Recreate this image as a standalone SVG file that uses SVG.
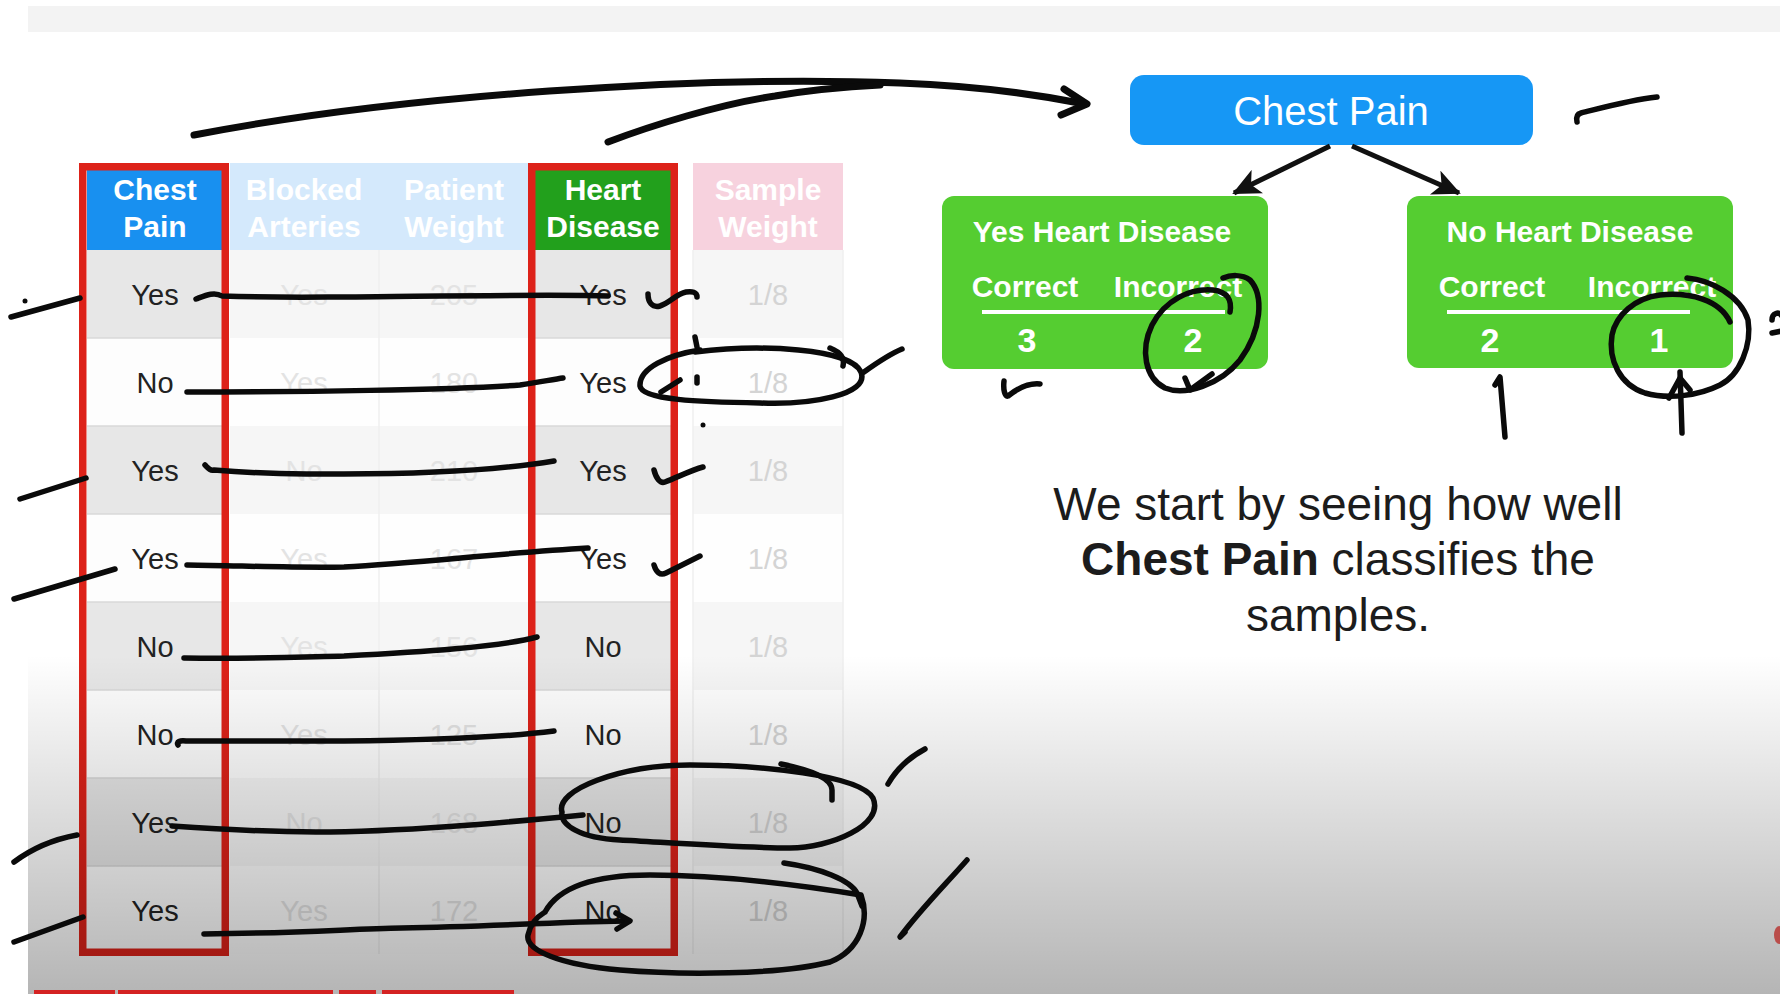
<svg xmlns="http://www.w3.org/2000/svg" width="1780" height="994" viewBox="0 0 1780 994">
  <defs>
    <linearGradient id="fade" x1="0" y1="655" x2="0" y2="994" gradientUnits="userSpaceOnUse">
      <stop offset="0" stop-color="#000" stop-opacity="0"/>
      <stop offset="1" stop-color="#000" stop-opacity="0.29"/>
    </linearGradient>
    <marker id="head" markerUnits="userSpaceOnUse" markerWidth="28" markerHeight="26" refX="26" refY="13" orient="auto" viewBox="0 0 28 26">
      <path d="M0,0 L28,13 L0,26 L7,13 z" fill="#111"/>
    </marker>
    <style>
      text { font-family: "Liberation Sans", Arial, Helvetica, sans-serif; }
      .hdr { font-size: 30px; font-weight: bold; fill: #fff; text-anchor: middle; }
      .val { font-size: 29px; fill: #222; text-anchor: middle; }
      .faint { font-size: 29px; fill: #e3e3e3; text-anchor: middle; }
      .wt { font-size: 29px; fill: #d4d4d4; text-anchor: middle; }
      .frame { fill: none; stroke: #dd2219; stroke-width: 7.5; }
      .odd { fill: #e7e7e7; }
      .even { fill: #fdfdfd; }
      .modd { fill: #f6f6f6; }
      .meven { fill: #fefefe; }
      .sep { stroke: #d9d9d9; stroke-width: 1.5; }
      .leaf { fill: #55cd31; }
      .leaf-title { font-size: 30px; font-weight: bold; fill: #fff; text-anchor: middle; }
      .leaf-num { font-size: 34px; font-weight: bold; fill: #fff; text-anchor: middle; }
      .rule { stroke: #fff; stroke-width: 4; }
      .edge { stroke: #111; stroke-width: 5; fill: none; marker-end: url(#head); }
      .body { font-size: 46px; fill: #1c1c1c; text-anchor: middle; }
      .ink { fill: none; stroke: #0a0a0a; stroke-width: 5.5; stroke-linecap: round; stroke-linejoin: round; }
      .ink-thick { fill: none; stroke: #0a0a0a; stroke-width: 7; stroke-linecap: round; stroke-linejoin: round; }
    </style>
  </defs>

  <!-- slide background -->
  <rect x="0" y="0" width="1780" height="994" fill="#ffffff"/>
  <rect x="28" y="6" width="1752" height="26" fill="#f3f3f3"/>

  <!-- data table -->
  <g id="table">
    <!-- header cells -->
    <rect x="87" y="170" width="136" height="80" fill="#1890f0"/>
    <rect x="230" y="163" width="298" height="87" fill="#d4e9fc"/>
    <rect x="535" y="170" width="137" height="80" fill="#22a01c"/>
    <rect x="693" y="163" width="150" height="87" fill="#f7d2de"/>

    <!-- body rows -->
    <g id="rows">
      <rect class="odd" x="87" y="250" width="136" height="88"/>
      <rect class="even" x="87" y="338" width="136" height="88"/>
      <rect class="odd" x="87" y="426" width="136" height="88"/>
      <rect class="even" x="87" y="514" width="136" height="88"/>
      <rect class="odd" x="87" y="602" width="136" height="88"/>
      <rect class="even" x="87" y="690" width="136" height="88"/>
      <rect class="odd" x="87" y="778" width="136" height="88"/>
      <rect class="even" x="87" y="866" width="136" height="88"/>

      <rect class="odd" x="535" y="250" width="137" height="88"/>
      <rect class="even" x="535" y="338" width="137" height="88"/>
      <rect class="odd" x="535" y="426" width="137" height="88"/>
      <rect class="even" x="535" y="514" width="137" height="88"/>
      <rect class="odd" x="535" y="602" width="137" height="88"/>
      <rect class="even" x="535" y="690" width="137" height="88"/>
      <rect class="odd" x="535" y="778" width="137" height="88"/>
      <rect class="even" x="535" y="866" width="137" height="88"/>

      <rect class="modd" x="230" y="250" width="298" height="88"/>
      <rect class="meven" x="230" y="338" width="298" height="88"/>
      <rect class="modd" x="230" y="426" width="298" height="88"/>
      <rect class="meven" x="230" y="514" width="298" height="88"/>
      <rect class="modd" x="230" y="602" width="298" height="88"/>
      <rect class="meven" x="230" y="690" width="298" height="88"/>
      <rect class="modd" x="230" y="778" width="298" height="88"/>
      <rect class="meven" x="230" y="866" width="298" height="88"/>

      <rect class="modd" x="693" y="250" width="150" height="88"/>
      <rect class="meven" x="693" y="338" width="150" height="88"/>
      <rect class="modd" x="693" y="426" width="150" height="88"/>
      <rect class="meven" x="693" y="514" width="150" height="88"/>
      <rect class="modd" x="693" y="602" width="150" height="88"/>
      <rect class="meven" x="693" y="690" width="150" height="88"/>
      <rect class="modd" x="693" y="778" width="150" height="88"/>
      <rect class="meven" x="693" y="866" width="150" height="88"/>

      <!-- row separators -->
      <path class="sep" d="M87,338H223M87,426H223M87,514H223M87,602H223M87,690H223M87,778H223M87,866H223
                           M535,338H672M535,426H672M535,514H672M535,602H672M535,690H672M535,778H672M535,866H672"/>
      <path d="M379,250V954M693,250V954M843,250V954" stroke="#f0f0f0" stroke-width="1.5"/>
    </g>

    <!-- header labels -->
    <text class="hdr" x="155" y="200">Chest</text>
    <text class="hdr" x="155" y="237">Pain</text>
    <text class="hdr" x="304" y="200">Blocked</text>
    <text class="hdr" x="304" y="237">Arteries</text>
    <text class="hdr" x="454" y="200">Patient</text>
    <text class="hdr" x="454" y="237">Weight</text>
    <text class="hdr" x="603" y="200">Heart</text>
    <text class="hdr" x="603" y="237">Disease</text>
    <text class="hdr" x="768" y="200">Sample</text>
    <text class="hdr" x="768" y="237">Weight</text>

    <!-- Chest Pain values -->
    <text class="val" x="155" y="305">Yes</text>
    <text class="val" x="155" y="393">No</text>
    <text class="val" x="155" y="481">Yes</text>
    <text class="val" x="155" y="569">Yes</text>
    <text class="val" x="155" y="657">No</text>
    <text class="val" x="155" y="745">No</text>
    <text class="val" x="155" y="833">Yes</text>
    <text class="val" x="155" y="921">Yes</text>

    <!-- Blocked Arteries values -->
    <text class="faint" x="304" y="305">Yes</text>
    <text class="faint" x="304" y="393">Yes</text>
    <text class="faint" x="304" y="481">No</text>
    <text class="faint" x="304" y="569">Yes</text>
    <text class="faint" x="304" y="657">Yes</text>
    <text class="faint" x="304" y="745">Yes</text>
    <text class="faint" x="304" y="833">No</text>
    <text class="faint" x="304" y="921">Yes</text>

    <!-- Patient Weight values -->
    <text class="faint" x="454" y="305">205</text>
    <text class="faint" x="454" y="393">180</text>
    <text class="faint" x="454" y="481">210</text>
    <text class="faint" x="454" y="569">167</text>
    <text class="faint" x="454" y="657">156</text>
    <text class="faint" x="454" y="745">125</text>
    <text class="faint" x="454" y="833">168</text>
    <text class="faint" x="454" y="921">172</text>

    <!-- Heart Disease values -->
    <text class="val" x="603" y="305">Yes</text>
    <text class="val" x="603" y="393">Yes</text>
    <text class="val" x="603" y="481">Yes</text>
    <text class="val" x="603" y="569">Yes</text>
    <text class="val" x="603" y="657">No</text>
    <text class="val" x="603" y="745">No</text>
    <text class="val" x="603" y="833">No</text>
    <text class="val" x="603" y="921">No</text>

    <!-- Sample Weight values -->
    <text class="wt" x="768" y="305">1/8</text>
    <text class="wt" x="768" y="393">1/8</text>
    <text class="wt" x="768" y="481">1/8</text>
    <text class="wt" x="768" y="569">1/8</text>
    <text class="wt" x="768" y="657">1/8</text>
    <text class="wt" x="768" y="745">1/8</text>
    <text class="wt" x="768" y="833">1/8</text>
    <text class="wt" x="768" y="921">1/8</text>

    <!-- highlight frames -->
    <rect class="frame" x="82.75" y="166.75" width="142.5" height="785.5"/>
    <rect class="frame" x="531.75" y="166.75" width="142.5" height="785.5"/>
  </g>

  <!-- stump tree -->
  <g id="node-chest-pain">
    <rect x="1130" y="75" width="403" height="70" rx="14" fill="#1697f5"/>
    <text x="1331" y="125" font-size="40" fill="#fff" text-anchor="middle">Chest Pain</text>
  </g>

  <g id="node-yes-heart-disease">
    <rect class="leaf" x="942" y="196" width="326" height="173" rx="12"/>
    <text class="leaf-title" x="1102" y="242">Yes Heart Disease</text>
    <text class="leaf-title" x="1025" y="297">Correct</text>
    <text class="leaf-title" x="1178" y="297">Incorrect</text>
    <line class="rule" x1="982" y1="312" x2="1225" y2="312"/>
    <text class="leaf-num" x="1027" y="352">3</text>
    <text class="leaf-num" x="1193" y="352">2</text>
  </g>

  <g id="node-no-heart-disease">
    <rect class="leaf" x="1407" y="196" width="326" height="172" rx="12"/>
    <text class="leaf-title" x="1570" y="242">No Heart Disease</text>
    <text class="leaf-title" x="1492" y="297">Correct</text>
    <text class="leaf-title" x="1652" y="297">Incorrect</text>
    <line class="rule" x1="1447" y1="312" x2="1690" y2="312"/>
    <text class="leaf-num" x="1490" y="352">2</text>
    <text class="leaf-num" x="1659" y="352">1</text>
  </g>

  <g id="connectors">
    <line class="edge" x1="1330" y1="146" x2="1234" y2="193"/>
    <line class="edge" x1="1352" y1="146" x2="1459" y2="193"/>
  </g>

  <g id="caption">
    <text class="body" x="1338" y="520">We start by seeing how well</text>
    <text class="body" x="1338" y="575"><tspan font-weight="bold">Chest Pain</tspan> classifies the</text>
    <text class="body" x="1338" y="631">samples.</text>
  </g>

  <!-- lower shading of the slide -->
  <rect x="28" y="655" width="1752" height="339" fill="url(#fade)"/>

  <!-- progress bar -->
  <g fill="#d42222">
    <rect x="34" y="990" width="81" height="4"/>
    <rect x="118" y="990" width="215" height="4"/>
    <rect x="339" y="990" width="37" height="4"/>
    <rect x="382" y="990" width="132" height="4"/>
  </g>
  <ellipse cx="1779" cy="935" rx="5" ry="9" fill="#b8302c" opacity="0.8"/>

  <!-- handwritten ink -->
  <g id="ink">
    <!-- arrow from the table to the root -->
    <path class="ink-thick" d="M194,135 C400,95 700,75 900,83 C980,86 1040,95 1085,104"/>
    <path class="ink-thick" d="M1064,89 L1087,104 L1061,115"/>
    <path class="ink-thick" d="M608,142 C650,126 720,104 775,96 C810,90 840,87 880,85"/>
    <path class="ink" d="M1577,122 C1576,117 1577,114 1581,113 C1605,107 1630,100 1657,97"/>

    <!-- row links -->
    <path class="ink" d="M196,299 C204,296 214,291 222,296 C280,298 320,297 350,297 C450,296 560,294 608,296"/>
    <path class="ink" d="M187,392 C300,392 450,390 520,385 C540,382 555,379 563,378"/>
    <path class="ink" d="M205,465 C208,468 210,471 214,470 C260,474 300,474 344,474 C430,474 500,470 554,461"/>
    <path class="ink" d="M187,565 C250,566 300,568 344,567 C420,563 500,553 588,548"/>
    <path class="ink" d="M184,658 C260,659 300,657 344,656 C420,652 500,647 537,637"/>
    <path class="ink" d="M178,745 C176,742 180,740 186,741 C260,741 300,741 344,741 C430,740 500,738 554,731"/>
    <path class="ink" d="M172,826 C230,830 270,832 316,832 C400,832 500,823 583,815"/>
    <path class="ink" d="M204,934 C300,933 350,929 402,928 C500,926 580,921 629,921"/>
    <path class="ink" d="M616,913 L630,921 L617,929"/>

    <!-- ticks beside rows -->
    <path class="ink" d="M648,294 C648,302 652,308 660,306 C670,303 676,294 686,292 C692,291 697,292 697,297"/>
    <path class="ink" d="M654,470 C656,478 660,484 665,482 C680,476 692,470 703,467"/>
    <path class="ink" d="M654,565 C656,572 660,576 666,573 C680,566 692,560 700,556"/>

    <!-- loop round row 2 -->
    <path class="ink" d="M695,352 C760,344 850,348 861,372 C870,395 810,405 760,403 C700,402 642,400 640,386 C639,368 668,355 700,350"/>
    <path class="ink" d="M830,348 C840,352 845,358 843,366"/>
    <path class="ink" d="M864,372 C878,362 890,354 902,349"/>
    <path class="ink" d="M695,337 L697,347"/>
    <path class="ink" d="M661,392 L680,380"/>
    <path class="ink" d="M697,377 L697,383"/>
    <circle cx="703" cy="425" r="2.5" fill="#0a0a0a"/>

    <!-- loops round rows 7 and 8 -->
    <path class="ink" d="M562,812 C555,790 620,765 690,765 C760,765 860,775 873,798 C885,825 830,848 790,848 C740,848 660,842 620,840 C580,838 560,825 562,812"/>
    <path class="ink" d="M781,764 C810,770 832,778 832,790 L832,800"/>
    <path class="ink" d="M888,784 C896,770 910,757 925,749"/>
    <path class="ink" d="M545,912 C560,885 600,875 650,875 C720,875 800,885 861,895 C870,920 860,950 830,962 C780,975 680,975 620,970 C560,965 525,950 528,935 C530,925 535,918 545,912"/>
    <path class="ink" d="M784,863 C820,868 850,880 857,893 L862,906"/>
    <path class="ink" d="M905,932 L900,937 C920,910 945,885 967,860"/>

    <!-- strokes left of the table -->
    <path class="ink" d="M11,317 L80,298"/>
    <circle cx="25" cy="301" r="2.5" fill="#0a0a0a"/>
    <path class="ink" d="M20,499 L86,478"/>
    <path class="ink" d="M14,599 L115,569"/>
    <path class="ink" d="M14,862 C30,850 50,840 77,835"/>
    <path class="ink" d="M14,942 L83,917"/>

    <!-- marks on the leaves -->
    <path class="ink" d="M1230,312 C1232,300 1228,292 1213,290 C1190,288 1165,300 1152,325 C1140,350 1145,378 1165,388 C1185,396 1220,385 1240,360 C1262,330 1264,295 1250,280 C1242,274 1230,275 1223,278"/>
    <path class="ink" d="M1185,378 L1190,390 L1212,374"/>
    <path class="ink" d="M1004,381 C1003,390 1005,397 1008,396 C1018,388 1030,383 1040,384"/>
    <path class="ink" d="M1687,278 C1710,280 1740,295 1748,320 C1752,345 1740,375 1720,385 C1700,395 1670,400 1645,393 C1620,385 1608,360 1612,335 C1616,315 1635,298 1660,295 C1690,292 1720,300 1730,322"/>
    <path class="ink" d="M1682,433 L1680,372"/>
    <path class="ink" d="M1669,398 L1680,378 L1690,390"/>
    <path class="ink" d="M1495,385 L1500,377 L1505,437"/>
    <path class="ink" d="M1772,320 C1772,313 1779,311 1782,316 M1772,333 L1782,331"/>
  </g>
</svg>
